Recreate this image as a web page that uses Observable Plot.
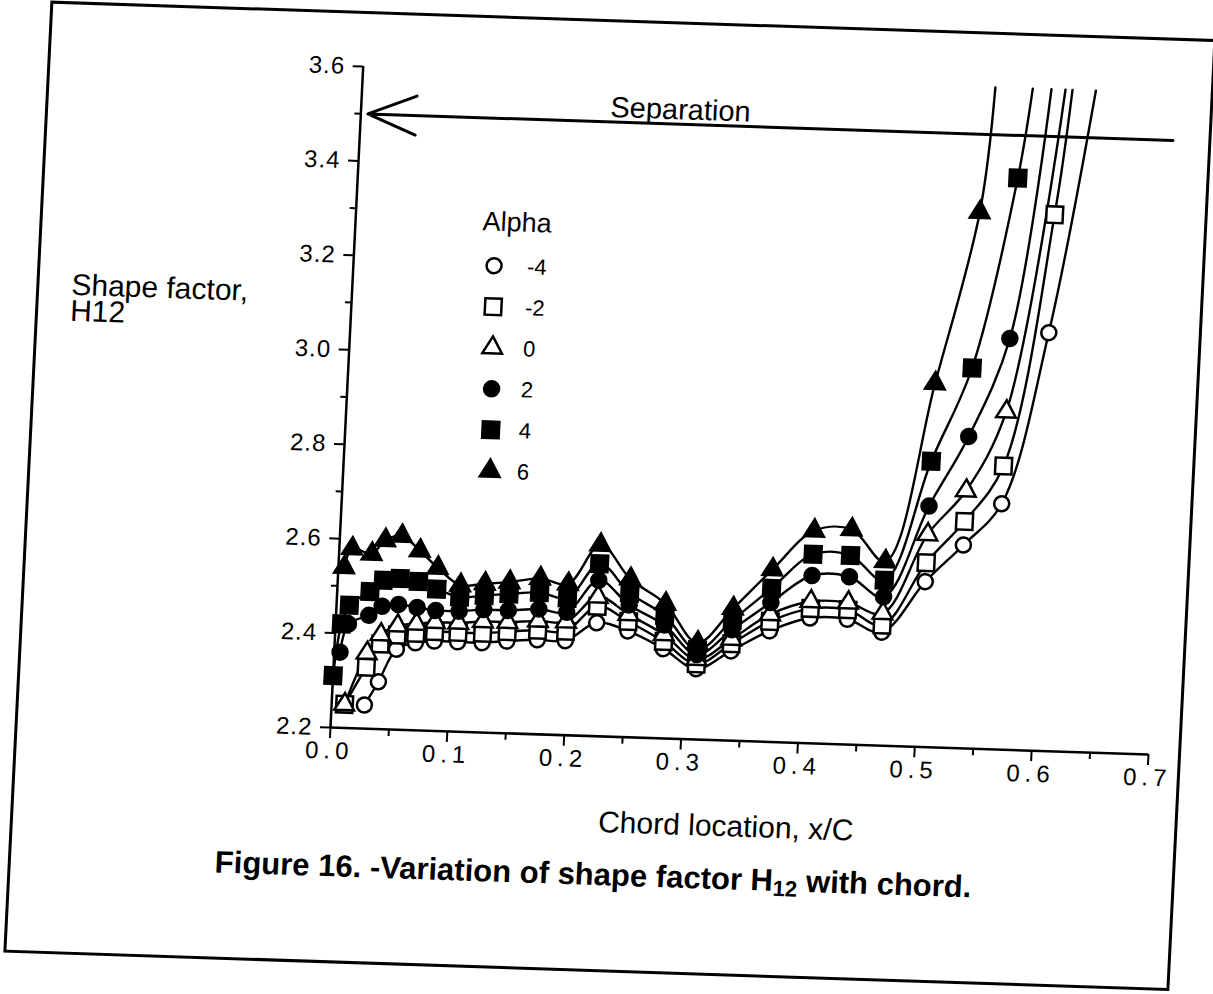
<!DOCTYPE html>
<html>
<head>
<meta charset="utf-8">
<script src="https://cdn.jsdelivr.net/npm/d3@7"></script>
<script src="https://cdn.jsdelivr.net/npm/@observablehq/plot@0.6"></script>
<style>
  html, body { margin: 0; padding: 0; background: #fff; }
  body { width: 1213px; height: 994px; overflow: hidden; font-family: "Liberation Sans", Arial, sans-serif; color: #000; }
  #page { position: absolute; left: 0; top: 0; width: 1213px; height: 994px;
          transform-origin: 330px 727px; transform: matrix(1, 0.033, -0.0495, 1, 0, 0); }
  #frame { position: absolute; left: 15px; top: 11px; width: 1166px; height: 952px; border: 3px solid #000; box-sizing: border-box; }
  #chart { position: absolute; left: 0; top: 0; }
  #chart svg g[aria-label="x-axis tick label"] text { letter-spacing: 5px; font-size: 24px; }
  #chart svg g[aria-label="y-axis tick label"] text { letter-spacing: 1px; font-size: 24px; }
  #ylabel { position: absolute; left: 50px; top: 281px; font-size: 30px; line-height: 26px; }
  #xlabel { position: absolute; left: 530px; width: 400px; top: 796px; text-align: center; font-size: 30px; }
  #caption { position: absolute; left: 100px; width: 1000px; top: 848px; text-align: center; font-size: 31px; font-weight: bold; }
  #caption sub { font-size: 22px; vertical-align: -5px; line-height: 0; }
  #legend { position: absolute; left: 440px; top: 195px; }
</style>
</head>
<body>
<div id="page">
  <div id="frame"></div>
  <div id="chart"></div>
  <div id="ylabel">Shape factor,<br>H12</div>
  <div id="xlabel">Chord location, x/C</div>
  <div id="caption">Figure 16. -Variation of shape factor H<sub>12</sub> with chord.</div>
  <div id="legend"></div>
</div>
<script>
// ---------- data ----------
const alphas = [-4, -2, 0, 2, 4, 6];
const alphaLabels = ["-4", "-2", "0", "2", "4", "6"];
const legendTitle = "Alpha";
const symbols = ["circle", "square", "triangle", "circle", "square", "triangle"];
const fills = ["white", "white", "white", "black", "black", "black"];

// chord locations x/C of the measuring stations
const xs = [0.000, 0.005, 0.011, 0.028, 0.039, 0.053, 0.069, 0.085, 0.105, 0.126, 0.147, 0.173, 0.197,
            0.223, 0.250, 0.281, 0.310, 0.339, 0.371, 0.405, 0.437, 0.467, 0.502, 0.533, 0.564, 0.597];

// shape factor H12 per alpha (null = no marker)
const hm4 = [null, null, null, 2.25, 2.30, 2.37, 2.385, 2.39, 2.39, 2.39, 2.395, 2.40, 2.40,
             2.44, 2.425, 2.39, 2.35, 2.39, 2.435, 2.465, 2.465, 2.44, 2.55, 2.63, 2.72, 3.085];
const hm2 = [null, null, 2.25, 2.33, 2.38, 2.40, 2.405, 2.41, 2.41, 2.41, 2.415, 2.42, 2.42,
             2.475, 2.445, 2.405, 2.36, 2.405, 2.455, 2.485, 2.485, 2.455, 2.59, 2.68, 2.80, 3.335];
const h0  = [null, null, 2.25, 2.36, 2.40, 2.42, 2.425, 2.43, 2.43, 2.435, 2.435, 2.44, 2.44,
             2.495, 2.46, 2.42, 2.37, 2.415, 2.47, 2.50, 2.50, 2.48, 2.65, 2.745, 2.915, null];
const h2  = [null, 2.36, 2.42, 2.44, 2.46, 2.465, 2.46, 2.455, 2.455, 2.46, 2.46, 2.465, 2.46,
             2.53, 2.48, 2.44, 2.38, 2.435, 2.495, 2.555, 2.555, 2.515, 2.71, 2.86, 3.07, null];
const h4  = [2.31, 2.42, 2.46, 2.49, 2.515, 2.52, 2.515, 2.50, 2.485, 2.49, 2.495, 2.50, 2.49,
             2.565, 2.505, 2.46, 2.39, 2.455, 2.525, 2.60, 2.60, 2.55, 2.805, 3.005, 3.41, null];
const h6  = [null, 2.54, 2.58, 2.57, 2.60, 2.61, 2.58, 2.545, 2.51, 2.515, 2.52, 2.53, 2.52,
             2.605, 2.535, 2.485, 2.405, 2.48, 2.565, 2.65, 2.655, 2.59, 2.97, 3.335, null, null];

// where each fitted curve leaves the top of the chart
const curveEndX = [0.627, 0.607, 0.601, 0.589, 0.573, 0.541];
const curveEndY = 3.6;

// axes
const xDomain = [0, 0.7];
const yDomain = [2.2, 3.6];
const xTicks = [0, 0.1, 0.2, 0.3, 0.4, 0.5, 0.6, 0.7];
const xMinorTicks = [0.05, 0.15, 0.25, 0.35, 0.45, 0.55, 0.65];
const yTicks = [2.2, 2.4, 2.6, 2.8, 3.0, 3.2, 3.4, 3.6];
const yMinorTicks = [2.3, 2.5, 2.7, 2.9, 3.1, 3.3, 3.5];

// separation annotation
const sepLevel = 3.5;
const sepFromX = 0.695;
const sepToX = 0.006;
const sepText = "Separation";
const sepTextX = 0.273;

// ---------- build ----------
const series = [hm4, hm2, h0, h2, h4, h6];
const markerRadius = {circle: 7.5, square: 9.3, triangle: 7.3};

const marks = [];
// axis lines
marks.push(Plot.ruleY([yDomain[0]], {strokeWidth: 2.5}));
marks.push(Plot.ruleX([xDomain[0]], {strokeWidth: 2.5}));
// ticks
marks.push(Plot.axisX({ticks: xTicks, tickSize: 11, tickPadding: 3, tickFormat: d3.format(".1f"), fontSize: 24, strokeWidth: 2, label: null}));
marks.push(Plot.axisX({ticks: xMinorTicks, tickSize: 7, tickFormat: () => "", strokeWidth: 2, label: null}));
marks.push(Plot.axisY({ticks: yTicks, tickSize: 10, tickPadding: 8, tickFormat: d3.format(".1f"), fontSize: 24, strokeWidth: 2, label: null}));
marks.push(Plot.axisY({ticks: yMinorTicks, tickSize: 6, tickFormat: () => "", strokeWidth: 2, label: null}));

// separation arrow + label
marks.push(Plot.arrow([{x1: sepFromX, x2: sepToX, y: sepLevel}], {
  x1: "x1", x2: "x2", y1: "y", y2: "y", strokeWidth: 3, headLength: 26, headAngle: 44
}));
marks.push(Plot.text([{x: sepTextX, y: sepLevel, t: sepText}], {
  x: "x", y: "y", text: "t", lineAnchor: "bottom", dy: -5, fontSize: 29
}));

// curves
series.forEach((vals, i) => {
  const pts = xs.map((x, j) => ({x, h: vals[j]})).filter(d => d.h != null);
  pts.push({x: curveEndX[i], h: curveEndY});
  marks.push(Plot.line(pts, {x: "x", y: "h", curve: "catmull-rom", stroke: "black", strokeWidth: 2.4}));
});
// markers
series.forEach((vals, i) => {
  const pts = xs.map((x, j) => ({x, h: vals[j]})).filter(d => d.h != null);
  marks.push(Plot.dot(pts, {
    x: "x", y: "h", symbol: symbols[i], r: markerRadius[symbols[i]],
    fill: fills[i], stroke: "black", strokeWidth: 2.5
  }));
});

const chart = Plot.plot({
  width: 1213,
  height: 830,
  marginLeft: 330,
  marginRight: 65,
  marginTop: 66,
  marginBottom: 103,
  x: {domain: xDomain, axis: null},
  y: {domain: yDomain, axis: null},
  style: {fontFamily: "'Liberation Sans', Arial, sans-serif", color: "#000", background: "transparent", overflow: "visible"},
  marks
});
document.getElementById("chart").appendChild(chart);

// legend
const lg = d3.select("#legend").append("svg").attr("width", 150).attr("height", 300)
  .style("overflow", "visible");
lg.append("text").attr("x", 52).attr("y", 22).attr("text-anchor", "middle")
  .attr("dominant-baseline", "central").attr("font-size", 27)
  .attr("font-family", "'Liberation Sans', Arial, sans-serif").text(legendTitle);
const symMap = {circle: d3.symbolCircle, square: d3.symbolSquare, triangle: d3.symbolTriangle};
alphaLabels.forEach((lab, i) => {
  const y = 66 + i * 41;
  const r = markerRadius[symbols[i]];
  lg.append("path")
    .attr("d", d3.symbol(symMap[symbols[i]], Math.PI * r * r)())
    .attr("transform", `translate(${31 + i * 1.2},${y})`)
    .attr("fill", fills[i]).attr("stroke", "black").attr("stroke-width", 2.5);
  lg.append("text").attr("x", 64).attr("y", y).attr("dominant-baseline", "central")
    .attr("font-size", 22).attr("font-family", "'Liberation Sans', Arial, sans-serif").text(lab);
});
</script>
</body>
</html>
